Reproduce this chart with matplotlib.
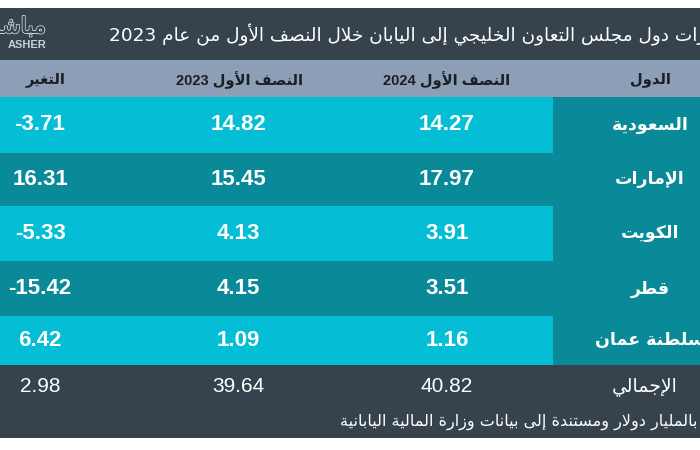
import re
import matplotlib
matplotlib.use("Agg")
import matplotlib.pyplot as plt
import matplotlib.patheffects as pe
from matplotlib.patches import Rectangle

# ====== DATA ======
TITLE = "صادرات دول مجلس التعاون الخليجي إلى اليابان خلال النصف الأول من عام 2023"
NOTE = "بالمليار دولار ومستندة إلى بيانات وزارة المالية اليابانية"
HEADERS = ["الدول", "النصف الأول 2024", "النصف الأول 2023", "التغير"]
countries = ["السعودية", "الإمارات", "الكويت", "قطر", "سلطنة عمان"]
h1_2024 = [14.27, 17.97, 3.91, 3.51, 1.16]
h1_2023 = [14.82, 15.45, 4.13, 4.15, 1.09]
change = [-3.71, 16.31, -5.33, -15.42, 6.42]
total_label = "الإجمالي"
total_2024 = 40.82
total_2023 = 39.64
total_change = 2.98

# ====== COLOURS ======
DARK = "#37434c"
HEAD = "#8d9fb6"
CYAN = "#04bed5"
TEAL = "#0a8a99"

# ---- minimal Arabic shaping (matplotlib has no complex text layout) ----
DUAL = {
    "ب": 0xFE8F, "ت": 0xFE95, "ث": 0xFE99, "ج": 0xFE9D, "ح": 0xFEA1, "خ": 0xFEA5,
    "س": 0xFEB1, "ش": 0xFEB5, "ص": 0xFEB9, "ض": 0xFEBD, "ط": 0xFEC1, "ظ": 0xFEC5,
    "ع": 0xFEC9, "غ": 0xFECD, "ف": 0xFED1, "ق": 0xFED5, "ك": 0xFED9, "ل": 0xFEDD,
    "م": 0xFEE1, "ن": 0xFEE5, "ه": 0xFEE9, "ي": 0xFEF1, "ئ": 0xFE89,
}
RIGHT = {
    "آ": 0xFE81, "أ": 0xFE83, "ؤ": 0xFE85, "إ": 0xFE87, "ا": 0xFE8D, "ة": 0xFE93,
    "د": 0xFEA9, "ذ": 0xFEAB, "ر": 0xFEAD, "ز": 0xFEAF, "و": 0xFEED, "ى": 0xFEEF,
}
LAM_ALEF = {"آ": 0xFEF5, "أ": 0xFEF7, "إ": 0xFEF9, "ا": 0xFEFB}


def is_ar(c):
    return c in DUAL or c in RIGHT


def shape(s):
    out = []
    i = 0
    while i < len(s):
        c = s[i]
        prev_join = i > 0 and s[i - 1] in DUAL
        if c == "ل" and i + 1 < len(s) and s[i + 1] in LAM_ALEF:
            out.append(chr(LAM_ALEF[s[i + 1]] + (1 if prev_join else 0)))
            i += 2
            continue
        nxt = i + 1 < len(s) and is_ar(s[i + 1])
        if c in RIGHT:
            out.append(chr(RIGHT[c] + (1 if prev_join else 0)))
        elif c in DUAL:
            b = DUAL[c]
            if prev_join and nxt:
                out.append(chr(b + 3))
            elif prev_join:
                out.append(chr(b + 1))
            elif nxt:
                out.append(chr(b + 2))
            else:
                out.append(chr(b))
        else:
            out.append(c)
        i += 1
    return "".join(out)


def ar(s):
    tokens = re.split(r"(\d+)", shape(s))
    vis = [t if t.isdigit() else t[::-1] for t in tokens]
    return "".join(vis[::-1])


AR_FONT = ["DejaVu Sans"]
NUM_FONT = ["Liberation Sans", "DejaVu Sans"]


def main():
    fig = plt.figure(figsize=(7, 4.5), dpi=100)
    ax = fig.add_axes([0, 0, 1, 1])
    ax.set_xlim(0, 700)
    ax.set_ylim(450, 0)
    ax.axis("off")

    # column centres (country, 2024, 2023, change)
    col_x = [650, 447, 238, 40]
    split_x = 553
    row_edges = [97, 153, 206, 261, 316, 365]

    # title band
    ax.add_patch(Rectangle((0, 8), 700, 52, color=DARK, lw=0))
    ax.text(109, 35, ar(TITLE), color="white", fontsize=13.3, family=AR_FONT,
            ha="left", va="center")
    # logo (cut at the left edge, as in the source image)
    ax.text(46, 27, ar("مباشر"), color=DARK, fontsize=16, family=AR_FONT,
            ha="right", va="center", clip_on=True,
            path_effects=[pe.withStroke(linewidth=1.4, foreground="#cfd5d8"),
                          pe.Normal()])
    ax.text(46, 45, "ASHER", color="#c9cfd3", fontsize=8,
            fontweight="bold", family=NUM_FONT, ha="right", va="center")

    # header band
    ax.add_patch(Rectangle((0, 60), 700, row_edges[0] - 60, color=HEAD, lw=0))
    head_x = [650, 447, 240, 46]
    for x, h in zip(head_x, HEADERS):
        ax.text(x, 80, ar(h), color="#1a1f24", fontsize=10.5, fontweight="bold",
                family=NUM_FONT, ha="center", va="center")

    # data rows
    for i, name in enumerate(countries):
        y0, y1 = row_edges[i], row_edges[i + 1]
        yc = (y0 + y1) / 2
        ax.add_patch(Rectangle((0, y0), 700, y1 - y0, color=TEAL, lw=0))
        if i % 2 == 0:
            ax.add_patch(Rectangle((0, y0), split_x, y1 - y0, color=CYAN, lw=0))
        ax.text(col_x[0], yc, ar(name), color="white", fontsize=12.5,
                fontweight="bold", family=AR_FONT, ha="center", va="center")
        for x, v in zip(col_x[1:], [h1_2024[i], h1_2023[i], change[i]]):
            ax.text(x, yc, f"{v:.2f}", color="white", fontsize=16,
                    fontweight="bold", family=NUM_FONT, ha="center", va="center")

    # totals + note band
    ax.add_patch(Rectangle((0, row_edges[-1]), 700, 438 - row_edges[-1],
                           color=DARK, lw=0))
    ax.text(col_x[0] - 5, 387, ar(total_label), color="white", fontsize=13.5,
            family=AR_FONT, ha="center", va="center")
    for x, v in zip(col_x[1:], [total_2024, total_2023, total_change]):
        ax.text(x, 387, f"{v:.2f}", color="white", fontsize=15,
                family=NUM_FONT, ha="center", va="center")
    ax.text(698, 422, ar(NOTE), color="white", fontsize=11.5, family=AR_FONT,
            ha="right", va="center")

    fig.savefig("out.png", dpi=100, facecolor="white")
    plt.close(fig)


if __name__ == "__main__":
    main()
